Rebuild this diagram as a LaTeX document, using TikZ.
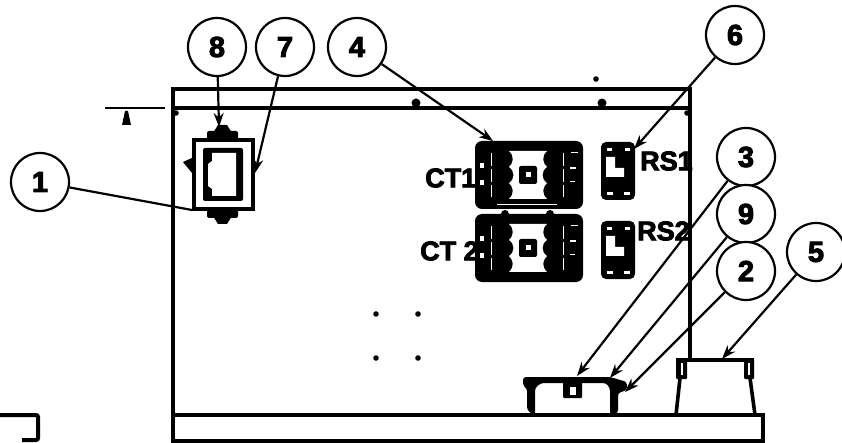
\documentclass[tikz,border=0pt]{standalone}
\usepackage{fontspec}
\setmainfont{Liberation Sans}[BoldFeatures={FakeBold=3.2}]
\usetikzlibrary{arrows.meta}
\tikzset{
 x=1pt,y=-1pt,
 callout/.style={circle,draw,line width=2.2pt,minimum size=58pt,inner sep=0pt,fill=white,font=\fontsize{29}{29}\selectfont\bfseries},
 leader/.style={line width=2.2pt,-{Stealth[length=14pt,width=10pt]}},
 plain/.style={line width=2.2pt},
 wall/.style={line width=4pt},
 part/.style={line width=3.6pt},
 lab/.style={font=\fontsize{27}{27}\selectfont\bfseries,inner sep=0pt},
}
\newcommand{\ctblock}[1]{%
 \begin{scope}[shift={(0,#1)}]
  \fill[black,rounded corners=7pt] (475,141) rectangle (583,209);
  \fill[white] (509,151) -- (547,151) .. controls (541,156) and (543,164) .. (547,167) .. controls (541,171) and (541,179) .. (547,183) .. controls (543,187) and (541,193) .. (547,199) -- (509,199) .. controls (515,193) and (513,187) .. (509,183) .. controls (515,179) and (515,171) .. (509,167) .. controls (513,164) and (515,156) .. (509,151) -- cycle;
  \fill[black,rounded corners=2pt] (519,166) rectangle (537,184);
  \fill[white] (526,172) rectangle (531,177);
  \draw[white,line width=0.9pt,dash pattern=on 13pt off 3pt] (491,153) -- (491,197);
  \draw[white,line width=0.9pt,dash pattern=on 13pt off 3pt] (563,153) -- (563,197);
  \fill[white] (480,163) rectangle (484,168);
  \fill[white] (480,180) rectangle (484,185);
  \fill[white] (571,152) rectangle (578,153);
  \fill[white] (570,167) rectangle (576,169);
  \fill[white] (570,181) rectangle (575,182);
 \end{scope}}
\newcommand{\rsblock}[1]{%
 \begin{scope}[shift={(0,#1)}]
  \fill[black,rounded corners=5pt] (601,142) rectangle (635,200);
  \fill[white] (606,157) -- (615,157) -- (615,168) -- (624,168) -- (624,177) -- (606,177) -- cycle;
  \fill[white] (607,148) rectangle (612,151);
  \fill[white] (625,148) rectangle (630,151);
  \fill[white] (607,192) rectangle (613,195);
  \fill[white] (624,192) rectangle (630,195);
 \end{scope}}
\begin{document}
\begin{tikzpicture}
\useasboundingbox (0,0) rectangle (842,443);
% housing
\draw[wall] (173,443) -- (173,89) -- (690,89) -- (690,358);
\draw[wall] (173,108) -- (690,108);
\fill (596,79) circle (2.8);
\fill (416,103) circle (4.5);
\fill (602,103) circle (4.5);
\fill (176,113) circle (2.8);
\fill (687,113) circle (2.8);
\foreach \px/\py in {376/314,418/314,376/358,418/358} \fill (\px,\py) circle (2.8);
% section mark
\draw[plain] (105,108) -- (165,108);
\fill (125,111) -- (128,111) -- (131,125) -- (122,125) -- cycle;
% left socket
\fill[black,rounded corners=2pt] (207,131) rectangle (238,140);
\fill[black] (213,133) -- (218,125) -- (227,125) -- (232,133) -- cycle;
\fill[black,rounded corners=2pt] (207,208) rectangle (238,218);
\fill[black] (213,216) -- (218,224) -- (227,224) -- (232,216) -- cycle;
\draw[part,fill=white] (194,140) rectangle (253,209);
\fill[black,rounded corners=2pt] (203,148) rectangle (243,201);
\fill[white] (212,153) -- (236,153) -- (236,196) -- (212,196) -- (212,189) -- (208,186) -- (208,164) -- (212,161) -- cycle;
\fill (183,162) -- (192,158) -- (192,173) -- cycle;
% CT and RS
\ctblock{0}
\ctblock{73}
\fill[white] (497,204) rectangle (557,205);
\fill (505,214) circle (4);
\fill (550,214) circle (4);
\rsblock{0}
\rsblock{79}
\node[lab,anchor=west] (ct1) at (425,178) {CT1};
\node[lab,anchor=west] (ct2) at (420,251) {CT 2};
\node[lab,anchor=west] (rs1) at (640,161) {RS1};
\node[lab,anchor=west] (rs2) at (637,231) {RS2};
% base
\draw[wall,rounded corners=2pt] (0,415) -- (38,415) -- (38,440) -- (22,440);
\draw[wall] (173,415) -- (763,415) -- (763,441) -- (173,441);
% connector part
\fill[black,rounded corners=3pt] (523,377) -- (610,377) -- (627,382) -- (627,390) -- (618,393) -- (618,413) -- (610,416) -- (610,388) -- (606,383) -- (541,383) -- (535,388) -- (535,416) -- (527,410) -- (527,388) -- (523,386) -- cycle;
\fill[black,rounded corners=1pt] (563,377) rectangle (582,398);
\fill[white] (570,387) rectangle (576,395);
% part 5
\draw[part,line join=round] (676,415) -- (680,378);
\draw[part,line join=round] (750,378) -- (755,415);
\fill[black,rounded corners=1pt] (676,358) rectangle (687,379);
\fill[black,rounded corners=1pt] (744,358) rectangle (754,379);
\fill[black] (676,358) rectangle (754,362);
\fill[white] (680.5,363) rectangle (682.5,375);
\fill[white] (747.5,363) rectangle (749.5,375);
% callouts
\node[callout] (c1) at (40,182) {1};
\node[callout] (c8) at (217,47) {8};
\node[callout] (c7) at (285,47) {7};
\node[callout] (c4) at (357,47) {4};
\node[callout] (c6) at (735,35) {6};
\node[callout] (c3) at (746,157) {3};
\node[callout] (c9) at (746,214) {9};
\node[callout] (c2) at (746,271) {2};
\node[callout] (c5) at (816,252) {5};
\coordinate (t1) at (192,210);
\coordinate (t8) at (219,127);
\coordinate (t7) at (255,173);
\coordinate (t4) at (493,141);
\coordinate (t6) at (634,149);
\coordinate (t3) at (577,376);
\coordinate (t9) at (610,378);
\coordinate (t2) at (625,392);
\coordinate (t5) at (722,359);
\draw[plain] (c1) -- (t1);
\draw[leader] (c8) -- (t8);
\draw[leader] (c7) -- (t7);
\draw[leader] (c4) -- (t4);
\draw[leader] (c6) -- (t6);
\draw[leader] (c3) -- (t3);
\draw[leader] (c9) -- (t9);
\draw[leader] (c2) -- (t2);
\draw[leader] (c5) -- (t5);
\end{tikzpicture}
\end{document}
